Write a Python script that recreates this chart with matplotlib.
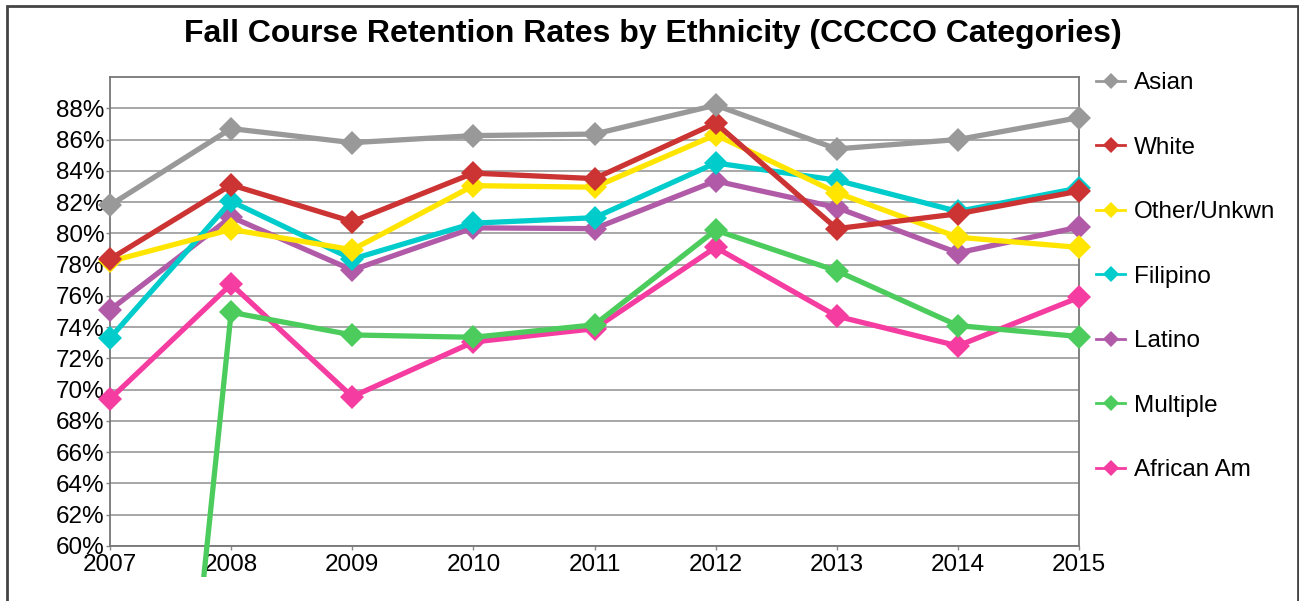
import matplotlib
matplotlib.use("Agg")
import matplotlib.pyplot as plt
from matplotlib.lines import Line2D
from matplotlib.patches import Rectangle
from matplotlib.transforms import Bbox, TransformedBbox

plt.rcParams['font.family'] = ['Liberation Sans', 'DejaVu Sans']

years = [2007, 2008, 2009, 2010, 2011, 2012, 2013, 2014, 2015]
asian = [81.8, 86.7, 85.8, 86.25, 86.35, 88.2, 85.4, 86.0, 87.4]
white = [78.35, 83.1, 80.75, 83.85, 83.5, 87.05, 80.3, 81.25, 82.7]
other = [78.2, 80.25, 78.95, 83.05, 82.95, 86.3, 82.6, 79.75, 79.1]
filipino = [73.3, 82.05, 78.35, 80.65, 81.0, 84.5, 83.4, 81.4, 82.9]
latino = [75.1, 81.05, 77.65, 80.35, 80.3, 83.35, 81.65, 78.75, 80.4]
multiple = [0.0, 74.95, 73.5, 73.35, 74.15, 80.2, 77.6, 74.1, 73.4]
african = [69.4, 76.75, 69.55, 73.05, 73.9, 79.1, 74.7, 72.8, 75.9]

names = ['Asian', 'White', 'Other/Unkwn', 'Filipino', 'Latino', 'Multiple', 'African Am']
series = [asian, white, other, filipino, latino, multiple, african]
colors = ['#999999', '#cc3333', '#ffe500', '#00cccc', '#b05aa8', '#4ccc5c', '#f53ca0']

fig = plt.figure(figsize=(12.99, 6.01), dpi=100)
ax = fig.add_axes([110 / 1299, 55 / 601, 969 / 1299, 469 / 601])

# lines may run past the plot area (Multiple 2007 = 0), clip at chart area instead
clip = TransformedBbox(Bbox.from_extents(0, 24 / 601, 1, 1), fig.transFigure)

for i, (name, vals, c) in enumerate(zip(names, series, colors)):
    ln, = ax.plot(years, vals, color=c, lw=3.8, marker='D', markersize=12,
                  markeredgewidth=0, zorder=10 - i, clip_on=True)
    ln.set_clip_box(clip)

ax.set_xlim(2007, 2015)
ax.set_ylim(60, 90)
ax.set_xticks(years)
ax.set_yticks(range(60, 90, 2))
ax.set_yticklabels([f'{v}%' for v in range(60, 90, 2)])
ax.tick_params(axis='both', labelsize=17.5, length=3, color='#888888', width=1)
ax.tick_params(axis='y', pad=1)
ax.tick_params(axis='x', pad=2.5)
ax.grid(axis='y', color='#a0a0a0', lw=1.3)
ax.set_axisbelow(True)
for s in ax.spines.values():
    s.set_color('#777777')
    s.set_linewidth(1.3)

handles = [Line2D([], [], color=c, lw=2, marker='D', markersize=8, markeredgewidth=0)
           for c in colors]
fig.legend(handles, names, loc='upper left', bbox_to_anchor=(1096 / 1299, 1 - 72 / 601),
           frameon=False, fontsize=17.5, handlelength=1.2, handletextpad=0.35,
           labelspacing=1.75, borderaxespad=0, borderpad=0)

fig.text(653 / 1299, 1 - 34 / 601, 'Fall Course Retention Rates by Ethnicity (CCCCO Categories)',
         ha='center', va='center', fontsize=23, fontweight='bold')

fig.patches.append(Rectangle((7 / 1299, -0.1), 1291 / 1299, 1.1 - 6 / 601,
                             transform=fig.transFigure, fill=False,
                             edgecolor='#444444', lw=2))

fig.savefig('out.png', dpi=100)
